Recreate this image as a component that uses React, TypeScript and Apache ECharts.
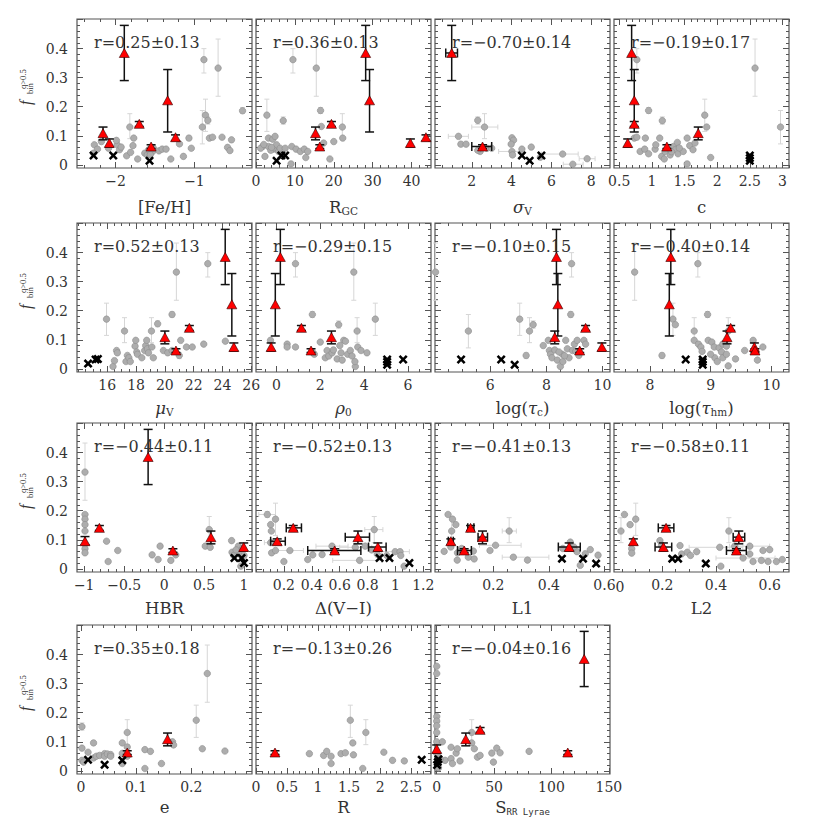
import React, { useEffect, useRef } from "react";
import * as echarts from "echarts";

type Pt = (number | null)[];

// ---------------- shared y axis ----------------
const Y_MIN = -0.011;
const Y_MAX = 0.502;
const yTickLabels = [0, 0.1, 0.2, 0.3, 0.4];
const yMajorTicks = [0, 0.1, 0.2, 0.3, 0.4, 0.5];
const yMinorStep = 0.02;

// rows: [x, y, yLow, yHigh, xLow, xHigh]
// ---------------- [Fe/H] ----------------
const fehTicks = [-2, -1];
const fehGray: Pt[] = [
  [-2.27, 0.069], [-2.23, 0.054], [-2.18, 0.08], [-2.09, 0.057], [-1.98, 0.069], [-1.95, 0.052],
  [-1.93, 0.061], [-1.99, 0.084], [-1.86, 0.031], [-1.81, 0.043], [-1.82, 0.13, 0.09, 0.176],
  [-1.78, 0.066], [-1.77, 0.092], [-1.72, 0.02], [-1.63, 0.04], [-1.6, 0.034], [-1.58, 0.052],
  [-1.53, 0.046], [-1.52, 0.057], [-1.45, 0.048], [-1.41, 0.054], [-1.36, 0.054], [-1.3, 0.02],
  [-1.19, 0.072], [-1.14, 0.029], [-1.07, 0.092, 0.084, 0.1], [-1.04, 0.057],
  [-0.9, 0.13, 0.072, 0.187], [-0.88, 0.362, 0.316, 0.4], [-0.86, 0.171, 0.115, 0.226],
  [-0.83, 0.153, 0.14, 0.165], [-0.81, 0.092], [-0.77, 0.095], [-0.7, 0.333, 0.236, 0.433],
  [-0.65, 0.095], [-0.58, 0.06], [-0.53, 0.086], [-0.55, 0.049], [-0.39, 0.186, 0.177, 0.197],
  [-2.28, 0.04], [-1.56, 0.035],
];
const fehBin: Pt[] = [
  [-2.16, 0.109, 0.086, 0.13], [-2.08, 0.075, 0.061, 0.089], [-1.89, 0.385, 0.29, 0.48],
  [-1.7, 0.141, 0.132, 0.149], [-1.55, 0.063, 0.056, 0.069], [-1.34, 0.222, 0.113, 0.328],
  [-1.24, 0.095, 0.083, 0.103],
];
const fehCross = [[-2.28, 0.032], [-2.03, 0.032], [-1.57, 0.014]];

// ---------------- R_GC ----------------
const rgcTicks = [0, 10, 20, 30, 40];
const rgcGray: Pt[] = [
  [2.8, 0.171, 0.115, 0.226], [1.7, 0.063], [2.3, 0.029], [3.2, 0.092], [4.3, 0.088], [4.9, 0.098],
  [3.2, 0.063], [4.5, 0.054], [5.3, 0.069], [5.8, 0.046], [6.2, 0.057], [7.0, 0.152, 0.14, 0.165],
  [7.5, 0.057], [9.0, 0.003], [9.2, 0.063], [9.5, 0.362, 0.316, 0.4], [10.3, 0.054], [11.4, 0.046],
  [12.4, 0.054], [12.8, 0.025], [13.3, 0.046], [15.5, 0.333, 0.236, 0.433], [16.6, 0.187, 0.177, 0.197],
  [16.8, 0.132], [17.4, 0.075], [19.0, 0.02], [20.0, 0.08], [22.2, 0.13, 0.09, 0.176], [22.3, 0.092],
  [1.2, 0.057], [2.0, 0.07], [3.8, 0.05], [4.0, 0.06],
];
const rgcBin: Pt[] = [
  [15.3, 0.109, 0.086, 0.13], [16.4, 0.063, 0.056, 0.069], [19.4, 0.141, 0.132, 0.149],
  [28.2, 0.385, 0.29, 0.48], [29.2, 0.222, 0.113, 0.328], [39.7, 0.075, 0.061, 0.089],
  [43.7, 0.095, 0.083, 0.103],
];
const rgcCross = [[5.3, 0.014], [6.5, 0.032], [7.5, 0.032]];

// ---------------- sigma_V ----------------
const sigTicks = [2, 4, 6, 8];
const sigGray: Pt[] = [
  [1.33, 0.098, null, null, 0.82, 1.83], [1.45, 0.071], [1.71, 0.071], [2.3, 0.153, 0.14, 0.165],
  [2.42, 0.046], [2.64, 0.13, 0.09, 0.176, 2.0, 3.31], [2.76, 0.057], [4.02, 0.093], [4.1, 0.085],
  [3.98, 0.071], [4.02, 0.046, null, null, 3.35, 4.52], [4.05, 0.034], [4.52, 0.054], [4.99, 0.061],
  [5.45, 0.026], [6.57, 0.037, null, null, 5.5, 7.35], [7.08, 0.002, null, null, 6.6, 7.6],
  [7.8, 0.021, null, null, 7.4, 8.2], [2.3, 0.05], [3.0, 0.057],
];
const sigBin: Pt[] = [
  [0.99, 0.385, 0.29, 0.48, 0.69, 1.28], [2.54, 0.063, 0.056, 0.069, 2.0, 3.0],
];
const sigCross = [[4.52, 0.032], [4.91, 0.014], [5.5, 0.032]];

// ---------------- c ----------------
const cTicks = [0.5, 1, 1.5, 2, 2.5, 3];
const cGray: Pt[] = [
  [0.77, 0.362, 0.316, 0.4], [2.58, 0.333, 0.236, 0.433], [0.95, 0.187, 0.177, 0.197],
  [1.16, 0.152, 0.14, 0.165], [1.81, 0.171, 0.115, 0.226], [1.84, 0.13], [2.97, 0.13, 0.072, 0.187],
  [0.73, 0.092], [0.77, 0.095], [0.82, 0.046], [0.89, 0.054], [0.9, 0.092], [0.95, 0.038],
  [1.05, 0.054], [1.06, 0.069], [1.12, 0.092], [1.15, 0.029], [1.19, 0.02], [1.2, 0.046],
  [1.28, 0.034], [1.33, 0.063], [1.36, 0.052], [1.39, 0.077], [1.4, 0.038], [1.48, 0.046],
  [1.54, 0.092], [1.54, 0.003], [1.58, 0.066], [1.63, 0.052], [1.66, 0.075], [1.9, 0.025],
  [1.3, 0.045], [1.42, 0.058],
];
const cBin: Pt[] = [
  [0.63, 0.075, 0.061, 0.089], [0.69, 0.385, 0.29, 0.48], [0.73, 0.222, 0.113, 0.328],
  [0.73, 0.141, 0.132, 0.149], [1.23, 0.063, 0.056, 0.069], [1.71, 0.109, 0.086, 0.13],
];
const cCross = [[2.5, 0.032], [2.5, 0.023], [2.5, 0.014]];

// ---------------- mu_V ----------------
const muTicks = [16, 18, 20, 22, 24, 26];
const muGray: Pt[] = [
  [15.95, 0.171, 0.115, 0.226], [16.4, 0.008], [16.5, 0.028], [16.65, 0.063], [16.7, 0.055],
  [17.2, 0.13, 0.09, 0.176], [17.3, 0.025], [17.4, 0.046], [17.5, 0.038], [17.6, 0.025],
  [17.93, 0.078], [17.98, 0.098], [18.05, 0.058], [18.1, 0.05], [18.4, 0.038], [18.6, 0.063],
  [18.67, 0.08], [18.74, 0.098], [18.79, 0.069], [18.86, 0.055], [19.07, 0.13, 0.09, 0.176],
  [19.1, 0.075], [19.2, 0.038], [19.5, 0.155, 0.145, 0.165], [19.9, 0.063], [20.2, 0.055],
  [20.5, 0.063], [20.5, 0.187, 0.177, 0.197], [20.8, 0.333, 0.236, 0.433], [21.0, 0.046, 0.035, 0.055],
  [21.1, 0.098], [21.5, 0.075], [21.9, 0.075], [22.7, 0.085], [22.98, 0.362, 0.316, 0.4], [24.2, 0.095],
];
const muBin: Pt[] = [
  [20.0, 0.109, 0.086, 0.13], [20.77, 0.063, 0.056, 0.069], [21.7, 0.141, 0.132, 0.149],
  [24.19, 0.385, 0.29, 0.48], [24.65, 0.222, 0.113, 0.328], [24.79, 0.075, 0.061, 0.089],
];
const muCross = [[14.67, 0.018], [15.19, 0.032], [15.35, 0.034]];

// ---------------- rho_0 ----------------
const rhoTicks = [0, 2, 4, 6];
const rhoGray: Pt[] = [
  [-0.27, 0.098], [0.49, 0.085], [0.49, 0.075], [0.87, 0.075], [0.87, 0.362, 0.316, 0.4],
  [1.64, 0.187, 0.177, 0.197], [1.67, 0.055], [1.73, 0.05], [2.0, 0.092], [2.23, 0.038],
  [2.31, 0.063], [2.39, 0.044], [2.54, 0.055], [2.6, 0.065], [2.84, 0.152, 0.14, 0.165],
  [2.77, 0.034], [2.89, 0.08], [2.95, 0.055], [3.0, 0.03], [3.07, 0.098], [3.15, 0.095],
  [3.25, 0.05], [3.37, 0.063], [3.45, 0.044], [3.53, 0.333, 0.236, 0.433], [3.6, 0.008],
  [3.58, 0.025], [3.68, 0.13, 0.09, 0.176], [3.71, 0.075], [3.86, 0.063], [4.13, 0.055],
  [4.51, 0.171, 0.115, 0.226],
];
const rhoBin: Pt[] = [
  [-0.24, 0.075, 0.061, 0.089], [-0.05, 0.222, 0.113, 0.328], [0.18, 0.385, 0.29, 0.48],
  [1.14, 0.141, 0.132, 0.149], [1.58, 0.063, 0.056, 0.069], [2.51, 0.109, 0.086, 0.13],
];
const rhoCross = [[5.05, 0.032], [5.05, 0.024], [5.05, 0.014], [5.78, 0.032]];

// ---------------- log(tau_c) ----------------
const tcTicks = [6, 8, 10];
const tcGray: Pt[] = [
  [4.05, 0.333, 0.236, 0.433], [5.22, 0.13, 0.072, 0.187], [7.05, 0.171, 0.115, 0.226],
  [7.28, 0.046, 0.035, 0.055], [7.4, 0.13, 0.09, 0.176], [7.53, 0.152, 0.14, 0.165], [7.89, 0.08],
  [8.07, 0.098], [8.11, 0.063], [8.15, 0.05], [8.2, 0.038], [8.39, 0.03], [8.5, 0.008], [8.57, 0.05],
  [8.59, 0.025], [8.69, 0.098], [8.75, 0.069], [8.81, 0.038], [8.87, 0.187, 0.177, 0.197],
  [8.9, 0.362, 0.316, 0.4], [8.93, 0.063], [9.0, 0.085], [9.1, 0.098], [9.16, 0.046], [9.34, 0.098],
  [9.4, 0.085], [8.3, 0.065], [8.45, 0.058], [8.65, 0.045], [9.05, 0.06],
];
const tcBin: Pt[] = [
  [8.36, 0.385, 0.29, 0.48], [8.41, 0.222, 0.113, 0.328], [8.3, 0.109, 0.086, 0.13],
  [9.19, 0.063, 0.056, 0.069], [9.4, 0.141, 0.132, 0.149], [9.98, 0.075, 0.061, 0.089],
];
const tcCross = [[4.96, 0.032], [6.39, 0.032], [6.87, 0.014]];

// ---------------- log(tau_hm) ----------------
const thTicks = [8, 9, 10];
const thGray: Pt[] = [
  [7.75, 0.333, 0.236, 0.433], [8.2, 0.046, 0.035, 0.055], [8.38, 0.171, 0.115, 0.226],
  [8.42, 0.152], [8.73, 0.13, 0.09, 0.176], [8.73, 0.098], [8.79, 0.362, 0.316, 0.4], [8.8, 0.085],
  [8.84, 0.075], [8.86, 0.06], [8.95, 0.187, 0.177, 0.197], [8.96, 0.098], [9.02, 0.092],
  [9.06, 0.075], [9.07, 0.038], [9.11, 0.025], [9.14, 0.072], [9.18, 0.058], [9.2, 0.085],
  [9.2, 0.038], [9.26, 0.078], [9.29, 0.01], [9.29, 0.13, 0.09, 0.176], [9.26, 0.05], [9.41, 0.034],
  [9.56, 0.063], [9.7, 0.098], [9.77, 0.03], [9.86, 0.075], [9.0, 0.05],
];
const thBin: Pt[] = [
  [8.345, 0.385, 0.29, 0.48], [8.32, 0.222, 0.113, 0.328], [9.27, 0.109, 0.086, 0.13],
  [9.33, 0.141, 0.132, 0.149], [9.72, 0.075, 0.061, 0.089], [9.73, 0.063, 0.056, 0.069],
];
const thCross = [[8.59, 0.032], [8.87, 0.032], [8.87, 0.024], [8.87, 0.014]];

// ---------------- HBR ----------------
const hbrTicks = [-1, -0.5, 0, 0.5, 1];
const hbrGray: Pt[] = [
  [-0.99, 0.333, 0.236, 0.433], [-0.99, 0.187], [-0.99, 0.171], [-0.99, 0.152], [-0.99, 0.13],
  [-0.99, 0.085], [-0.99, 0.069], [-0.99, 0.055], [-0.72, 0.095], [-0.7, 0.025], [-0.58, 0.063],
  [-0.15, 0.048], [-0.075, 0.032], [-0.05, 0.078], [0.084, 0.029], [0.146, 0.048], [0.515, 0.078],
  [0.565, 0.135, 0.09, 0.18], [0.577, 0.074], [0.845, 0.097], [0.85, 0.057], [0.93, 0.078],
  [0.94, 0.051], [0.96, 0.009], [1.0, 0.046], [0.87, 0.046], [0.98, 0.07], [0.9, 0.065],
];
const hbrBin: Pt[] = [
  [-0.2, 0.385, 0.29, 0.48], [-0.81, 0.141, 0.132, 0.149], [-0.99, 0.095, 0.083, 0.111],
  [0.11, 0.063, 0.056, 0.069], [0.586, 0.109, 0.086, 0.13], [0.996, 0.075, 0.061, 0.089],
];
const hbrCross = [[0.88, 0.037], [0.97, 0.037], [1.0, 0.02]];

// ---------------- Delta(V-I) ----------------
const dviTicks = [0.2, 0.4, 0.6, 0.8, 1, 1.2];
const dviGray: Pt[] = [
  [0.081, 0.187, 0.177, 0.197, 0.02, 0.14], [0.14, 0.171, 0.115, 0.226], [0.105, 0.152], [0.11, 0.13],
  [0.105, 0.09, null, null, 0.06, 0.15], [0.112, 0.055], [0.14, 0.063], [0.2, 0.025],
  [0.243, 0.063, null, null, 0.15, 0.34], [0.371, 0.032], [0.407, 0.048], [0.474, 0.049],
  [0.545, 0.078, null, null, 0.43, 0.66], [0.712, 0.074, null, null, 0.6, 0.83],
  [0.743, 0.029, null, null, 0.55, 0.9], [0.783, 0.078], [0.848, 0.135, 0.09, 0.18, 0.78, 0.91],
  [0.938, 0.046], [0.998, 0.059, null, null, 0.9, 1.1], [1.033, 0.059], [1.038, 0.046],
  [1.062, 0.009], [0.83, 0.065], [0.87, 0.05],
];
const dviBin: Pt[] = [
  [0.152, 0.095, 0.083, 0.103, 0.105, 0.21], [0.267, 0.141, 0.132, 0.149, 0.217, 0.326],
  [0.564, 0.063, 0.056, 0.069, 0.371, 0.752], [0.731, 0.109, 0.086, 0.13, 0.64, 0.814],
  [0.874, 0.075, 0.061, 0.089, 0.807, 0.933],
];
const dviCross = [[0.886, 0.037], [0.957, 0.037], [1.1, 0.02]];

// ---------------- L1 ----------------
const l1Ticks = [0.2, 0.4, 0.6];
const l1Gray: Pt[] = [
  [0.037, 0.187], [0.053, 0.171], [0.065, 0.152], [0.05, 0.13, 0.09, 0.176], [0.047, 0.075],
  [0.023, 0.06], [0.071, 0.055], [0.07, 0.03], [0.086, 0.07], [0.11, 0.04], [0.128, 0.061],
  [0.131, 0.034], [0.188, 0.063], [0.208, 0.081, null, null, 0.15, 0.3],
  [0.257, 0.13, 0.09, 0.176, 0.232, 0.283], [0.272, 0.04, null, null, 0.232, 0.4], [0.323, 0.03],
  [0.477, 0.092], [0.501, 0.059], [0.513, 0.012], [0.531, 0.052], [0.549, 0.066], [0.577, 0.047],
  [0.49, 0.075], [0.45, 0.07],
];
const l1Bin: Pt[] = [
  [0.047, 0.095, 0.083, 0.103, 0.038, 0.056], [0.095, 0.063, 0.056, 0.069, 0.071, 0.121],
  [0.118, 0.141, 0.132, 0.149, 0.108, 0.13], [0.161, 0.109, 0.086, 0.13, 0.145, 0.179],
  [0.473, 0.075, 0.061, 0.089, 0.434, 0.513],
];
const l1Cross = [[0.447, 0.035], [0.523, 0.035], [0.57, 0.018]];

// ---------------- L2 ----------------
const l2Ticks = [0.2, 0.4, 0.6];
const l2Gray: Pt[] = [
  [0.046, 0.13, 0.09, 0.176], [0.059, 0.187], [0.08, 0.152], [0.101, 0.171, 0.115, 0.226],
  [0.086, 0.069], [0.086, 0.054], [0.191, 0.097], [0.197, 0.08], [0.266, 0.08], [0.272, 0.051],
  [0.293, 0.057], [0.305, 0.046], [0.328, 0.059], [0.414, 0.074, null, null, 0.3, 0.5],
  [0.418, 0.009], [0.448, 0.13, 0.09, 0.176], [0.47, 0.078], [0.501, 0.037, null, null, 0.4, 0.62],
  [0.526, 0.078, null, null, 0.45, 0.6], [0.526, 0.051], [0.538, 0.025], [0.569, 0.029],
  [0.575, 0.063], [0.594, 0.025], [0.6, 0.066], [0.625, 0.025], [0.647, 0.032],
];
const l2Bin: Pt[] = [
  [0.092, 0.095, 0.083, 0.103], [0.214, 0.141, 0.132, 0.149, 0.185, 0.243],
  [0.485, 0.109, 0.086, 0.13, 0.464, 0.507], [0.204, 0.075, 0.061, 0.089, 0.173, 0.235],
  [0.476, 0.063, 0.056, 0.069, 0.439, 0.513],
];
const l2Cross = [[0.237, 0.035], [0.259, 0.035], [0.362, 0.018]];

// ---------------- e ----------------
const eTicks = [0, 0.1, 0.2];
const eGray: Pt[] = [
  [0.002, 0.152, 0.14, 0.165], [0.002, 0.078], [0.002, 0.036], [0.005, 0.03], [0.013, 0.064],
  [0.023, 0.096], [0.023, 0.044], [0.028, 0.05], [0.034, 0.053], [0.043, 0.059], [0.043, 0.05],
  [0.048, 0.058], [0.054, 0.056], [0.054, 0.05], [0.075, 0.096], [0.075, 0.025], [0.075, 0.06],
  [0.084, 0.132, 0.09, 0.176], [0.084, 0.082], [0.084, 0.05], [0.116, 0.073], [0.116, 0.008],
  [0.126, 0.067], [0.146, 0.025], [0.166, 0.1], [0.168, 0.089], [0.209, 0.174, 0.115, 0.226],
  [0.22, 0.076], [0.229, 0.335, 0.236, 0.433], [0.261, 0.068],
];
const eBin: Pt[] = [[0.084, 0.063, 0.056, 0.069], [0.157, 0.109, 0.086, 0.13]];
const eCross = [[0.013, 0.038], [0.043, 0.021], [0.075, 0.036]];

// ---------------- R ----------------
const rTicks = [0, 0.5, 1, 1.5, 2, 2.5];
const rGray: Pt[] = [
  [0.86, 0.059], [1.09, 0.053], [1.14, 0.067], [1.21, 0.05], [1.21, 0.025], [1.37, 0.059],
  [1.44, 0.062], [1.52, 0.174, 0.115, 0.226], [1.56, 0.096], [1.57, 0.055], [1.72, 0.008],
  [1.77, 0.132, 0.09, 0.176], [2.06, 0.064], [2.2, 0.036], [2.39, 0.034],
];
const rBin: Pt[] = [[0.306, 0.063, 0.056, 0.069]];
const rCross = [[2.67, 0.038]];

// ---------------- S_RR Lyrae ----------------
const sTicks = [0, 50, 100, 150];
const sGray: Pt[] = [
  [0, 0.36], [0, 0.335], [0, 0.187], [0, 0.171], [0, 0.155], [0, 0.132], [0, 0.1], [0, 0.06],
  [1, 0.05], [1.5, 0.01], [4.9, 0.1], [7.3, 0.036], [12.5, 0.081], [12.5, 0.042], [13.7, 0.025],
  [16.9, 0.061], [18, 0.076], [20.3, 0.034], [30.5, 0.132, 0.09, 0.176], [30.5, 0.096],
  [32.8, 0.076], [35.5, 0.047], [37.8, 0.053], [48, 0.061], [49.4, 0.03], [52.3, 0.078],
  [55.2, 0.062], [80.5, 0.067], [2, 0.045], [3, 0.04],
];
const sBin: Pt[] = [
  [0, 0.075, 0.061, 0.089], [25.3, 0.109, 0.086, 0.13], [37.8, 0.141, 0.132, 0.149],
  [114.2, 0.063, 0.056, 0.069], [128.5, 0.385, 0.29, 0.48],
];
const sCross = [[1.5, 0.04], [0.9, 0.03], [0.3, 0.02]];

const corrLabels = [
  "r=0.25±0.13", "r=0.36±0.13", "r=−0.70±0.14", "r=−0.19±0.17",
  "r=0.52±0.13", "r=−0.29±0.15", "r=−0.10±0.15", "r=−0.40±0.14",
  "r=−0.44±0.11", "r=−0.52±0.13", "r=−0.41±0.13", "r=−0.58±0.11",
  "r=0.35±0.18", "r=−0.13±0.26", "r=−0.04±0.16",
];

// ---------------- layout / styling ----------------
const FONT = '"DejaVu Serif", serif';
const GRID_LEFT = [77, 256, 435, 614];
const GRID_TOP = [19, 223, 423, 625];
const NAME_GAP = [30, 27, 27, 24];
const GW = 175;
const GH = 149;
const TXT = "#333";
const FRAME = "#555";

interface Panel {
  name: string; min: number; max: number; ticks: number[]; minor: number;
  gray: Pt[]; bin: Pt[]; cross: number[][];
}

const panels: Panel[] = [
  { name: "{n|[Fe/H]}", min: -2.49, max: -0.27, ticks: fehTicks, minor: 0.2, gray: fehGray, bin: fehBin, cross: fehCross },
  { name: "{n|R}{s|GC}", min: 0, max: 45, ticks: rgcTicks, minor: 2, gray: rgcGray, bin: rgcBin, cross: rgcCross },
  { name: "{g|σ}{s|V}", min: 0.15, max: 8.95, ticks: sigTicks, minor: 0.5, gray: sigGray, bin: sigBin, cross: sigCross },
  { name: "{n|c}", min: 0.42, max: 3.1, ticks: cTicks, minor: 0.1, gray: cGray, bin: cBin, cross: cCross },
  { name: "{g|μ}{s|V}", min: 13.9, max: 26.05, ticks: muTicks, minor: 0.5, gray: muGray, bin: muBin, cross: muCross },
  { name: "{g|ρ}{s|0}", min: -0.93, max: 7.05, ticks: rhoTicks, minor: 0.5, gray: rhoGray, bin: rhoBin, cross: rhoCross },
  { name: "{n|log(}{g|τ}{s|c}{n|)}", min: 4.03, max: 10.27, ticks: tcTicks, minor: 0.5, gray: tcGray, bin: tcBin, cross: tcCross },
  { name: "{n|log(}{g|τ}{s|hm}{n|)}", min: 7.41, max: 10.29, ticks: thTicks, minor: 0.2, gray: thGray, bin: thBin, cross: thCross },
  { name: "{n|HBR}", min: -1.09, max: 1.1, ticks: hbrTicks, minor: 0.1, gray: hbrGray, bin: hbrBin, cross: hbrCross },
  { name: "{n|Δ(V−I)}", min: 0, max: 1.255, ticks: dviTicks, minor: 0.05, gray: dviGray, bin: dviBin, cross: dviCross },
  { name: "{n|L1}", min: -0.01, max: 0.62, ticks: l1Ticks, minor: 0.05, gray: l1Gray, bin: l1Bin, cross: l1Cross },
  { name: "{n|L2}", min: 0.02, max: 0.672, ticks: l2Ticks, minor: 0.05, gray: l2Gray, bin: l2Bin, cross: l2Cross },
  { name: "{n|e}", min: -0.007, max: 0.31, ticks: eTicks, minor: 0.02, gray: eGray, bin: eBin, cross: eCross },
  { name: "{n|R}", min: 0, max: 2.82, ticks: rTicks, minor: 0.1, gray: rGray, bin: rBin, cross: rCross },
  { name: "{n|S}{m|RR Lyrae}", min: -1.5, max: 151, ticks: sTicks, minor: 10, gray: sGray, bin: sBin, cross: sCross },
];

function ticksBetween(min: number, max: number, step: number): number[] {
  const out: number[] = [];
  const k0 = Math.ceil(min / step - 1e-9);
  const k1 = Math.floor(max / step + 1e-9);
  for (let k = k0; k <= k1; k++) out.push(+(k * step).toFixed(6));
  return out;
}

function fmt(v: number): string {
  const s = String(+v.toFixed(6));
  return v < 0 ? "−" + s.slice(1) : s;
}

function errBars(color: string, lw: number, cap: number, horizontal: boolean) {
  return (_p: any, api: any) => {
    const x = api.value(0), y = api.value(1), lo = api.value(2), hi = api.value(3);
    const style = { stroke: color, lineWidth: lw, fill: null };
    let a: number[], b: number[];
    if (horizontal) {
      a = api.coord([lo, y]); b = api.coord([hi, y]);
      return {
        type: "group",
        children: [
          { type: "line", shape: { x1: a[0], y1: a[1], x2: b[0], y2: b[1] }, style },
          { type: "line", shape: { x1: a[0], y1: a[1] - cap, x2: a[0], y2: a[1] + cap }, style },
          { type: "line", shape: { x1: b[0], y1: b[1] - cap, x2: b[0], y2: b[1] + cap }, style },
        ],
      };
    }
    a = api.coord([x, lo]); b = api.coord([x, hi]);
    return {
      type: "group",
      children: [
        { type: "line", shape: { x1: a[0], y1: a[1], x2: b[0], y2: b[1] }, style },
        { type: "line", shape: { x1: a[0] - cap, y1: a[1], x2: a[0] + cap, y2: a[1] }, style },
        { type: "line", shape: { x1: b[0] - cap, y1: b[1], x2: b[0] + cap, y2: b[1] }, style },
      ],
    };
  };
}

const CROSS = "path://M0,2 L2,0 L5,3 L8,0 L10,2 L7,5 L10,8 L8,10 L5,7 L2,10 L0,8 L3,5 Z";

const rich = {
  n: { fontFamily: FONT, fontSize: 16.5, color: TXT, lineHeight: 18, verticalAlign: "middle" },
  g: { fontFamily: FONT, fontStyle: "italic", fontSize: 16.5, color: TXT, lineHeight: 18, verticalAlign: "middle" },
  s: { fontFamily: FONT, fontSize: 10.5, color: TXT, lineHeight: 10, verticalAlign: "bottom" },
  m: { fontFamily: '"DejaVu Sans Mono", monospace', fontSize: 9, color: TXT, lineHeight: 9, verticalAlign: "bottom" },
};

function buildOption() {
  const grid: any[] = [], xAxis: any[] = [], yAxis: any[] = [], series: any[] = [], graphic: any[] = [];
  const tickLine = { color: FRAME, width: 1 };
  const yMinor = ticksBetween(Y_MIN, Y_MAX, yMinorStep);

  panels.forEach((p, i) => {
    const row = Math.floor(i / 4), col = i % 4;
    const left = GRID_LEFT[col], top = GRID_TOP[row];
    grid.push({
      left, top, width: GW, height: GH, show: true, borderColor: FRAME, borderWidth: 1.2,
      backgroundColor: "transparent", containLabel: false, outerBoundsMode: "none",
    });
    const base = {
      gridIndex: i, type: "value",
      axisLine: { show: false, onZero: false }, splitLine: { show: false },
    };
    const xMinor = ticksBetween(p.min, p.max, p.minor);
    const xr = { min: p.min, max: p.max };
    const yr = { min: Y_MIN, max: Y_MAX };
    xAxis.push({
      ...base, ...xr, position: "bottom",
      axisTick: { show: true, inside: true, length: 6, customValues: p.ticks, lineStyle: tickLine },
      axisLabel: { show: true, customValues: p.ticks, formatter: fmt, margin: 6, fontFamily: FONT, fontSize: 14, color: TXT },
      name: p.name, nameLocation: "middle", nameGap: NAME_GAP[row], nameTextStyle: { rich },
    });
    xAxis.push({ ...base, ...xr, position: "bottom", axisLabel: { show: false },
      axisTick: { show: true, inside: true, length: 3, customValues: xMinor, lineStyle: tickLine } });
    xAxis.push({ ...base, ...xr, position: "top", axisLabel: { show: false },
      axisTick: { show: true, inside: true, length: 6, customValues: p.ticks, lineStyle: tickLine } });
    xAxis.push({ ...base, ...xr, position: "top", axisLabel: { show: false },
      axisTick: { show: true, inside: true, length: 3, customValues: xMinor, lineStyle: tickLine } });

    yAxis.push({
      ...base, ...yr, position: "left",
      axisTick: { show: true, inside: true, length: 6, customValues: yMajorTicks, lineStyle: tickLine },
      axisLabel: col === 0
        ? { show: true, customValues: yTickLabels, formatter: fmt, margin: 9, fontFamily: FONT, fontSize: 14, color: TXT }
        : { show: false },
    });
    yAxis.push({ ...base, ...yr, position: "left", axisLabel: { show: false },
      axisTick: { show: true, inside: true, length: 3, customValues: yMinor, lineStyle: tickLine } });
    yAxis.push({ ...base, ...yr, position: "right", axisLabel: { show: false },
      axisTick: { show: true, inside: true, length: 6, customValues: yMajorTicks, lineStyle: tickLine } });
    yAxis.push({ ...base, ...yr, position: "right", axisLabel: { show: false },
      axisTick: { show: true, inside: true, length: 3, customValues: yMinor, lineStyle: tickLine } });

    const ax = { xAxisIndex: 4 * i, yAxisIndex: 4 * i, silent: true, animation: false };
    const grayY = p.gray.filter(d => d.length >= 4 && d[2] != null).map(d => [d[0], d[1], d[2], d[3]]);
    const grayX = p.gray.filter(d => d.length >= 6 && d[4] != null).map(d => [d[0], d[1], d[4], d[5]]);
    const binY = p.bin.filter(d => d.length >= 4 && d[2] != null).map(d => [d[0], d[1], d[2], d[3]]);
    const binX = p.bin.filter(d => d.length >= 6 && d[4] != null).map(d => [d[0], d[1], d[4], d[5]]);

    series.push({ ...ax, type: "custom", renderItem: errBars("#d6d6d6", 1, 2.5, false), data: grayY, z: 1 });
    series.push({ ...ax, type: "custom", renderItem: errBars("#d6d6d6", 1, 2.5, true), data: grayX, z: 1 });
    series.push({
      ...ax, type: "scatter", data: p.gray.map(d => [d[0], d[1]]), symbol: "circle", symbolSize: 6.5,
      itemStyle: { color: "#adadad", borderColor: "#8c8c8c", borderWidth: 0.6, opacity: 1 }, z: 2,
    });
    series.push({ ...ax, type: "custom", renderItem: errBars("#111", 1.5, 4.5, false), data: binY, z: 3 });
    series.push({ ...ax, type: "custom", renderItem: errBars("#111", 1.5, 4.5, true), data: binX, z: 3 });
    series.push({
      ...ax, type: "scatter", data: p.bin.map(d => [d[0], d[1]]), symbol: "triangle", symbolSize: [10, 9],
      itemStyle: { color: "#ff0000", borderColor: "#300", borderWidth: 0.6, opacity: 1 }, z: 4,
    });
    series.push({
      ...ax, type: "scatter", data: p.cross, symbol: CROSS, symbolSize: 9,
      itemStyle: { color: "#000", opacity: 1 }, z: 5,
    });

    graphic.push({
      type: "text", x: left + 17, y: top + 23, z: 10, silent: true,
      style: { text: corrLabels[i], fontFamily: FONT, fontSize: 16, fill: TXT, align: "left", verticalAlign: "middle" },
    });
  });

  // y-axis title for each row
  GRID_TOP.forEach((top) => {
    graphic.push({
      type: "group", x: 26, y: top + 87, rotation: Math.PI / 2, silent: true,
      children: [
        { type: "text", x: 1, y: -0.5, style: { text: "f", fontFamily: '"Liberation Serif", serif', fontStyle: "italic", fontSize: 16, fill: TXT, align: "left", verticalAlign: "middle" } },
        { type: "text", x: 12, y: 3.5, style: { text: "bin", fontFamily: '"Liberation Serif", serif', fontSize: 8.5, fill: TXT, align: "left", verticalAlign: "middle" } },
        { type: "text", x: 17, y: -3, style: { text: "q>0.5", fontFamily: '"Liberation Serif", serif', fontSize: 8.5, fill: TXT, align: "left", verticalAlign: "middle" } },
      ],
    });
  });

  // tick label "0" of the L2 panel printed just left of its frame
  graphic.push({
    type: "text", x: 620, y: GRID_TOP[2] + GH + 14.5, silent: true,
    style: { text: "0", fontFamily: FONT, fontSize: 14, fill: TXT, align: "center", verticalAlign: "middle" },
  });

  return { animation: false, backgroundColor: "#fff", tooltip: { show: false }, grid, xAxis, yAxis, series, graphic };
}

export default function App() {
  const ref = useRef<HTMLDivElement>(null);
  useEffect(() => {
    if (!ref.current) return;
    const chart = echarts.init(ref.current, null, { renderer: "svg" });
    chart.setOption(buildOption() as any);
    return () => chart.dispose();
  }, []);
  return (
    <div
      ref={ref}
      style={{ position: "absolute", left: 0, top: 0, width: 817, height: 817, background: "#fff" }}
    />
  );
}
